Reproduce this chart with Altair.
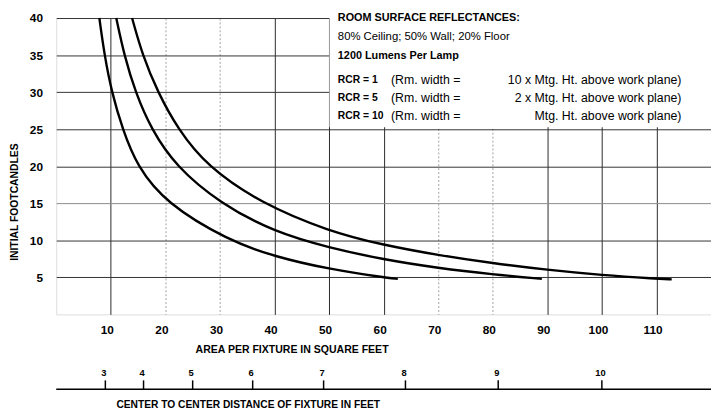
import altair as alt
import pandas as pd

FONT = "'Liberation Sans', Arial, Helvetica, sans-serif"

# Curves: area per fixture (sq ft) vs initial footcandles
rcr1_area = [13.9, 15.8, 18.6, 22.3, 27.6, 37.5, 50, 60, 70, 80, 90, 100, 110, 112.8]
rcr1_fc = [40, 35, 30, 25, 20, 15, 11.2, 9.35, 8.0, 6.9, 6.0, 5.3, 4.82, 4.72]

rcr5_area = [11.0, 12.45, 14.5, 17.4, 21.9, 30.0, 40, 50, 60, 70, 80, 89]
rcr5_fc = [40, 35, 30, 25, 20, 15, 11.1, 9.0, 7.4, 6.25, 5.4, 4.8]

rcr10_area = [7.9, 8.84, 10.16, 12.15, 14.8, 20.1, 31.5, 40, 50, 60, 62.6]
rcr10_fc = [40, 35, 30, 25, 20, 15, 10, 7.8, 6.1, 5.0, 4.8]

x_ticks = [10, 20, 30, 40, 50, 60, 70, 80, 90, 100, 110]
y_ticks = [5, 10, 15, 20, 25, 30, 35, 40]

# Secondary scale: center-to-center distance (ft); area = distance squared
spacing_ft = [3, 4, 5, 6, 7, 8, 9, 10]

rows = []
for name, xs, ys in [("RCR = 1", rcr1_area, rcr1_fc),
                     ("RCR = 5", rcr5_area, rcr5_fc),
                     ("RCR = 10", rcr10_area, rcr10_fc)]:
    for a, f in zip(xs, ys):
        rows.append({"area": a, "fc": f, "rcr": name})
curves = pd.DataFrame(rows)

spacing = pd.DataFrame({"d": spacing_ft})
spacing["area"] = spacing["d"] ** 2
spacing["label"] = spacing["d"].astype(str)

W, H = 665, 301
xscale = alt.Scale(domain=[0, 120], nice=False, zero=True)
yscale = alt.Scale(domain=[0, 40], nice=False)

light = "indexof([20,30,70,80], datum.value) >= 0"

x_axis = alt.Axis(
    values=x_ticks, title=None, domain=False, ticks=False,
    labelFont=FONT, labelFontSize=12, labelFontWeight="bold", labelColor="black",
    labelPadding=10, labelOffset=-4,
    gridColor={"condition": {"test": light, "value": "#a0a0a0"}, "value": "#2a2a2a"},
    gridDash={"condition": {"test": light, "value": [2, 2]}, "value": []},
    gridWidth=1,
)
y_axis = alt.Axis(
    values=y_ticks, title=None, domain=False, ticks=False,
    labelFont=FONT, labelFontSize=12, labelFontWeight="bold", labelColor="black",
    labelPadding=14,
    gridColor={"condition": {"test": "datum.value == 15", "value": "#8a8a8a"}, "value": "#333333"},
    gridWidth=1,
)

lines = alt.Chart(curves).mark_line(color="black", strokeWidth=2.4, interpolate="basis").encode(
    x=alt.X("area:Q", scale=xscale, axis=x_axis),
    y=alt.Y("fc:Q", scale=yscale, axis=y_axis),
    detail="rcr:N",
)

one = pd.DataFrame({"k": [0]})

def txt(s, x, y, size=11, weight="bold", align="left", angle=0):
    return alt.Chart(one).mark_text(
        font=FONT, fontSize=size, fontWeight=weight, align=align, baseline="middle",
        angle=angle, color="black",
    ).encode(x=alt.value(x), y=alt.value(y), text=alt.value(s))

box = alt.Chart(one).mark_rect(color="white").encode(
    x=alt.value(277.5), x2=alt.value(W + 5), y=alt.value(-10), y2=alt.value(111)
)

notes = [
    txt("ROOM SURFACE REFLECTANCES:", 286, 0, 11),
    txt("80% Ceiling; 50% Wall; 20% Floor", 286, 19.7, 11.5, "normal"),
    txt("1200 Lumens Per Lamp", 286, 38.3, 11),
    txt("RCR = 1", 286, 63, 10.5),
    txt("RCR = 5", 286, 81.7, 10.5),
    txt("RCR = 10", 286, 100, 10.5),
    txt("(Rm. width =", 340, 63, 12.5, "normal"),
    txt("(Rm. width =", 340, 81.7, 12.5, "normal"),
    txt("(Rm. width =", 340, 100, 12.5, "normal"),
    txt("10 x Mtg. Ht. above work plane)", 635, 63, 12.5, "normal", "right"),
    txt("2 x Mtg. Ht. above work plane)", 635, 81.7, 12.5, "normal", "right"),
    txt("Mtg. Ht. above work plane)", 635, 100, 12.5, "normal", "right"),
]

y_title = txt("INITIAL FOOTCANDLES", -41.5, 187, 10.5, "bold", "center", 270)
x_title = txt("AREA PER FIXTURE IN SQUARE FEET", 239.5, 337, 10.7, "bold", "center")

# Secondary distance scale drawn below the main axis
base_line = alt.Chart(one).mark_rule(color="black", strokeWidth=1.5).encode(
    x=alt.value(0), x2=alt.value(W), y=alt.value(377)
)
sp_ticks = alt.Chart(spacing).mark_rule(color="black", strokeWidth=1.5).encode(
    x=alt.X("area:Q", scale=xscale), y=alt.value(368), y2=alt.value(377)
)
sp_labels = alt.Chart(spacing).mark_text(
    font=FONT, fontSize=9.5, fontWeight="bold", color="black", baseline="middle", dx=-1.5
).encode(x=alt.X("area:Q", scale=xscale), y=alt.value(361), text="label:N")
sp_title = txt("CENTER TO CENTER DISTANCE OF FIXTURE IN FEET", 195, 393, 10.4, "bold", "center")

chart = alt.layer(
    lines, box, *notes, y_title, x_title, base_line, sp_ticks, sp_labels, sp_title
).properties(
    width=W, height=H,
    autosize=alt.AutoSizeParams(type="none"),
    padding={"left": 49, "top": 7, "right": 0, "bottom": 100},
).configure_view(stroke=None).configure(background="white")

chart.save("out.html", embed_options={"renderer": "svg", "actions": False})
